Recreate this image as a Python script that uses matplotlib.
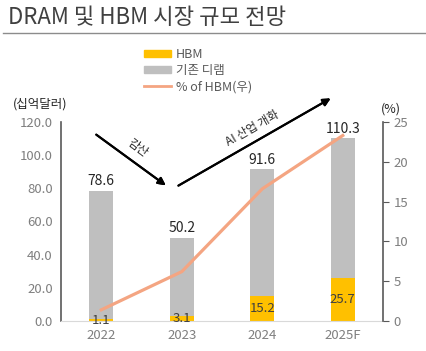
import matplotlib.pyplot as plt
from matplotlib.patches import Patch
from matplotlib.lines import Line2D

plt.rcParams['font.family'] = ['Noto Sans CJK KR', 'DejaVu Sans']

years = ["2022", "2023", "2024", "2025F"]
hbm = [1.1, 3.1, 15.2, 25.7]
total = [78.6, 50.2, 91.6, 110.3]
legacy = [77.5, 47.1, 76.4, 84.6]
hbm_pct = [1.4, 6.2, 16.6, 23.3]

GRAY_TXT = "#7f7f7f"
YELLOW = "#FFC000"
BAR_GRAY = "#BFBFBF"
SALMON = "#F4A582"

fig = plt.figure(figsize=(4.27, 3.51), dpi=100)
ax = fig.add_axes([0.143, 0.0855, 0.754, 0.567])
x = list(range(len(years)))

b1 = ax.bar(x, hbm, width=0.3, color=YELLOW, zorder=2)
b2 = ax.bar(x, legacy, width=0.3, bottom=hbm, color=BAR_GRAY, zorder=2)
ax.bar_label(b1, labels=[f"{v:.1f}" for v in hbm], label_type="center", fontsize=9.5, color="#404040")
for xi, t in zip(x, total):
    ax.text(xi, t + 1.5, f"{t:.1f}", ha="center", va="bottom", fontsize=10, color="#262626")

ax.set_xlim(-0.5, 3.5)
ax.set_ylim(0, 120)
ax.set_yticks(range(0, 121, 20))
ax.set_yticklabels([f"{v:.1f}" for v in range(0, 121, 20)])
ax.set_xticks(x)
ax.set_xticklabels(years)
ax.tick_params(axis="both", colors=GRAY_TXT, labelsize=9.5, length=0, pad=6)
for s in ["top", "right"]:
    ax.spines[s].set_visible(False)
ax.spines["left"].set_color("#595959")
ax.spines["left"].set_linewidth(1.2)
ax.spines["bottom"].set_color("#d9d9d9")

ax2 = ax.twinx()
ax2.plot(x, hbm_pct, color=SALMON, lw=2.3, zorder=3)
ax2.set_ylim(0, 25)
ax2.set_yticks(range(0, 26, 5))
ax2.tick_params(axis="y", colors="#595959", labelcolor=GRAY_TXT, labelsize=9.5, length=4, direction="out")
for s in ["top", "left", "bottom"]:
    ax2.spines[s].set_visible(False)
ax2.spines["right"].set_color("#595959")
ax2.spines["right"].set_linewidth(1.2)

# unit labels
fig.text(0.03, 0.705, "(십억달러)", fontsize=9, color="#262626", va="center")
fig.text(0.893, 0.688, "(%)", fontsize=9, color="#262626", va="center")

# title and rule
fig.text(0.018, 0.95, "DRAM 및 HBM 시장 규모 전망", fontsize=16, color="#404040", va="center")
fig.add_artist(Line2D([0.008, 0.995], [0.907, 0.907], color="#8c8c8c", lw=1))

# legend
handles = [Patch(color=YELLOW), Patch(color=BAR_GRAY), Line2D([0], [0], color=SALMON, lw=2)]
fig.legend(handles, ["HBM", "기존 디램", "% of HBM(우)"], loc="upper left",
           bbox_to_anchor=(0.31, 0.895), frameon=False, fontsize=9,
           handlelength=2.2, handleheight=0.5, labelspacing=0.25, handletextpad=0.4,
           labelcolor="#595959")

# trend arrows
arrow_kw = dict(arrowstyle="-|>", color="black", lw=1.5, mutation_scale=11)
fig.add_artist(plt.annotate("", xy=(168 / 427, 1 - 187 / 351), xytext=(94 / 427, 1 - 133 / 351),
                            xycoords="figure fraction", textcoords="figure fraction", arrowprops=arrow_kw))
fig.add_artist(plt.annotate("", xy=(333 / 427, 1 - 97 / 351), xytext=(176 / 427, 1 - 187 / 351),
                            xycoords="figure fraction", textcoords="figure fraction", arrowprops=arrow_kw))
fig.text(138 / 427, 1 - 148 / 351, "감산", rotation=-37, fontsize=8.5, color="#262626", ha="center", va="center")
fig.text(252 / 427, 1 - 128 / 351, "AI 산업 개화", rotation=30, fontsize=8.5, color="#262626", ha="center", va="center")

fig.savefig("out.png", dpi=100)
